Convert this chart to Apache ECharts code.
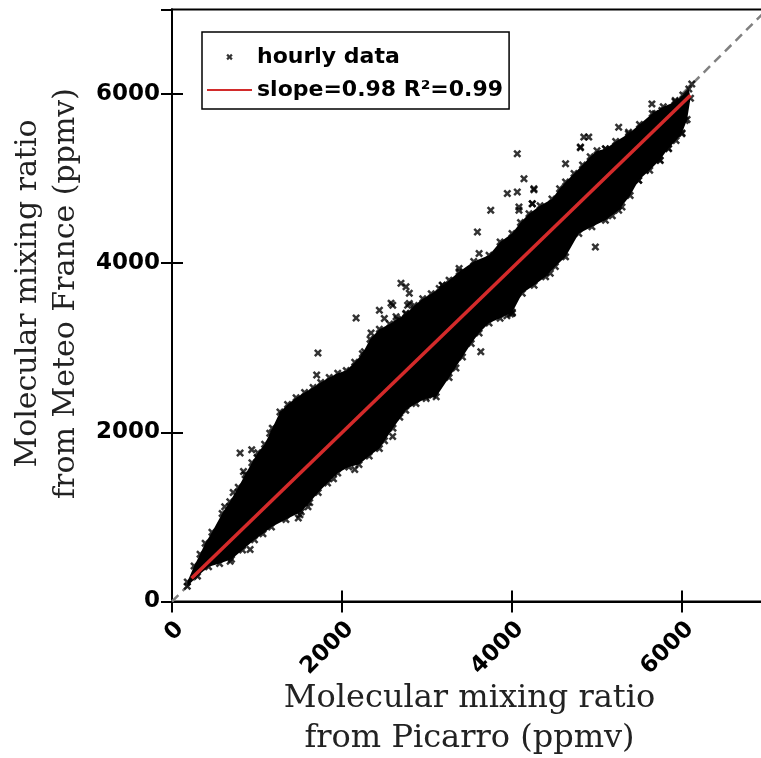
<!DOCTYPE html>
<html><head><meta charset="utf-8">
<script src="https://cdn.jsdelivr.net/npm/echarts@6/dist/echarts.min.js"></script>
<style>html,body{margin:0;padding:0;background:#fff}#c{width:761px;height:758px}</style>
</head><body><div id="c"></div>
<script>
// axis ticks
const tickValues = [0, 2000, 4000, 6000];
// dense core of the hourly cloud (upper and lower edge)
const cloudUpper = [[180,230],[260,420],[330,560],[390,690],[470,820],[590,1040],[680,1180],[780,1350],[860,1500],[940,1640],[1010,1760],[1090,1860],[1180,2050],[1270,2240],[1360,2330],[1460,2410],[1560,2470],[1660,2530],[1750,2590],[1850,2650],[1950,2700],[2050,2730],[2150,2830],[2240,2930],[2330,3100],[2440,3220],[2560,3280],[2650,3340],[2750,3400],[2850,3500],[2950,3580],[3050,3640],[3144,3700],[3260,3800],[3378,3900],[3550,4020],[3730,4094],[3860,4250],[4000,4350],[4100,4480],[4200,4586],[4330,4680],[4470,4760],[4560,4880],[4630,4960],[4730,5060],[4830,5160],[4920,5260],[5000,5330],[5100,5350],[5220,5440],[5370,5530],[5500,5640],[5650,5770],[5780,5850],[5920,5910],[6010,5990],[6080,6060]];
const cloudLower = [[180,180],[300,300],[430,410],[560,450],[700,500],[830,610],[970,730],[1070,800],[1170,880],[1340,970],[1520,1060],[1620,1170],[1720,1290],[1830,1400],[1950,1520],[2080,1590],[2200,1620],[2320,1720],[2440,1810],[2600,2050],[2750,2260],[2870,2340],[2990,2400],[3108,2420],[3260,2650],[3417,2891],[3520,3050],[3613,3174],[3730,3292],[3860,3350],[4004,3420],[4121,3646],[4260,3740],[4395,3839],[4510,3960],[4630,4075],[4786,4350],[4940,4430],[5099,4507],[5255,4626],[5390,4800],[5490,4980],[5620,5100],[5740,5220],[5840,5360],[5930,5450],[6000,5540],[6060,5700],[6100,5950]];
// scattered hourly points outside the dense core
const hourlyOutliers = [[801,1755],[938,1793],[1232,1951],[841,1538],[880,1440],[1505,1027],[1486,988],[919,614],[684,476],[2268,1873],[2307,1814],
[1717,2938],[1702,2678],[1815,2560],[2166,3351],[2440,3445],[2577,3528],[2694,3764],[2792,3646],[2636,3366],[2342,3174],[2264,2954],[3179,3740],[1302,2206],[1443,2230],[2596,1951],[2987,2423],[3066,2442],
[4062,5294],[4141,5000],[4258,4870],[3945,4823],[4062,4842],[3750,4626],[3593,4370],[3613,4114],[4903,5491],[4805,5373],[4630,5176],[4239,4704],[4082,4626],[4981,4193],[2753,3721],[2792,3525],[2753,3407],[4004,3407],
[4845,5491],[4805,5365],[5255,5608],[5099,5353],[5372,5549],[5529,5608],[5646,5884],[5685,5766],[5763,5805],[5920,5923],[6115,6120],[6037,5687],[5998,5530],[5842,5353],[5744,5215],[5607,5215],[5568,5097],[5490,4980],[5294,4665],[4258,4881],
[3633,2954],[2597,3504],[2498,3347],[2772,3504],[3183,3740],[3378,3937],[4082,4665],[4239,4704],[3983,3400],[3940,3380],
[620,1120],[720,1290],[1000,1700],[1150,1990],[1600,1120],[1900,1450],[2150,1560],[2500,1900],[2680,2180],[3340,2760],[4450,3880],[5180,4560]];
// regression line end points and 1:1 line
const fitLine = [[230,275],[6100,5985]];
const oneToOne = [[0,0],[7000,7000]];
const legendNames = ['hourly data', 'slope=0.98 R\u00b2=0.99'];

const X_SYMBOL = 'path://M0,2.2L2.2,0L5,2.8L7.8,0L10,2.2L7.2,5L10,7.8L7.8,10L5,7.2L2.2,10L0,7.8L2.8,5Z';
const X_ICON = 'path://M0,0M45,12M19.3,4.4L20.9,2.8L22.5,4.4L24.1,2.8L25.7,4.4L24.1,6L25.7,7.6L24.1,9.2L22.5,7.6L20.9,9.2L19.3,7.6L20.9,6Z';
const LINE_ICON = 'path://M0,0M45,12M0,5L45,5L45,7L0,7Z';

const tickFont = {fontFamily:'DejaVu Sans', fontWeight:'bold', fontSize:23, color:'#000'};
const axisLineStyle = {color:'#000', width:2};
const fmt = v => String(v);

const chart = echarts.init(document.getElementById('c'), null, {renderer:'canvas'});
chart.setOption({
  animation:false,
  backgroundColor:'#fff',
  grid:{left:172, top:9.5, width:595, height:592, outerBoundsMode:'none', containLabel:false,
        show:true, borderColor:'#000', borderWidth:2, backgroundColor:'#fff'},
  legend:{
    left:202, top:32, orient:'vertical', itemWidth:45, itemHeight:12, itemGap:11,
    padding:[14,6,8,5], borderColor:'#000', borderWidth:1.5, backgroundColor:'#fff',
    textStyle:{fontFamily:'DejaVu Sans', fontWeight:'bold', fontSize:22, color:'#000'},
    data:[{name:legendNames[0], icon:X_ICON},{name:legendNames[1], icon:LINE_ICON}]
  },
  xAxis:[{
    type:'value', min:0, max:7000, interval:2000, position:'bottom',
    axisLine:{show:true, lineStyle:axisLineStyle},
    axisTick:{show:true, inside:true, length:11, lineStyle:axisLineStyle},
    splitLine:{show:false},
    axisLabel:Object.assign({rotate:45, margin:16, verticalAlign:'top', showMaxLabel:false, formatter:fmt}, tickFont),
    name:'Molecular mixing ratio\nfrom Picarro (ppmv)', nameLocation:'middle', nameGap:77, nameMoveOverlap:false,
    nameTextStyle:{fontFamily:'DejaVu Serif', fontSize:32, lineHeight:40, color:'#222'}
  },{
    type:'value', min:0, max:7000, interval:2000, position:'top',
    axisLine:{show:true, lineStyle:axisLineStyle},
    axisTick:{show:true, inside:true, length:11, lineStyle:axisLineStyle},
    splitLine:{show:false}, axisLabel:{show:false}
  }],
  yAxis:[{
    type:'value', min:0, max:7000, interval:2000, position:'left',
    axisLine:{show:true, lineStyle:axisLineStyle},
    axisTick:{show:true, inside:true, length:11, lineStyle:axisLineStyle},
    splitLine:{show:false},
    axisLabel:Object.assign({margin:12, showMaxLabel:false, formatter:fmt}, tickFont),
    name:'Molecular mixing ratio\nfrom Meteo France (ppmv)', nameLocation:'middle', nameGap:86, nameRotate:90,
    nameTextStyle:{fontFamily:'DejaVu Serif', fontSize:30, lineHeight:38, color:'#222', padding:[0,0,0,24]}
  },{
    type:'value', min:0, max:7000, interval:2000, position:'right',
    axisLine:{show:true, lineStyle:axisLineStyle},
    axisTick:{show:true, inside:true, length:11, lineStyle:axisLineStyle},
    splitLine:{show:false}, axisLabel:{show:false}
  }],
  series:[
    {type:'line', name:'1:1', data:oneToOne, symbol:'none', silent:true, z:1,
     lineStyle:{color:'#808080', width:2.5, type:[9,6]}},
    {type:'custom', name:'core', data:[[0,0]], z:2, silent:true,
     renderItem:function(params, api){
       const pts = cloudUpper.map(p=>api.coord(p)).concat(cloudLower.slice().reverse().map(p=>api.coord(p)));
       return {type:'polygon', shape:{points:pts}, style:{fill:'#000'}};
     }},
    {type:'scatter', name:legendNames[0], data:hourlyOutliers.concat(cloudUpper, cloudLower),
     symbol:X_SYMBOL, symbolSize:8, itemStyle:{color:'#000'}, z:3},
    {type:'line', name:legendNames[1], data:fitLine, symbol:'none', z:4,
     itemStyle:{color:'#d22b2b'}, lineStyle:{color:'#d42a2a', width:3.5}}
  ]
});
</script>
</body></html>
